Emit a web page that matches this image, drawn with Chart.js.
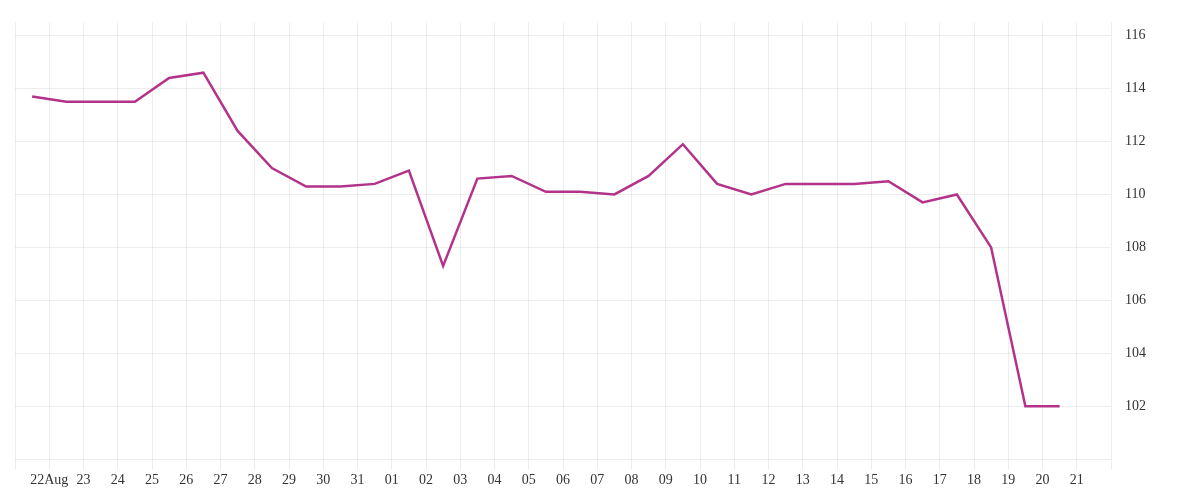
<!doctype html>
<html lang="en">
  <head>
    <meta charset="utf-8">
    <title>Line Chart</title>
    <style>
      * { margin: 0; padding: 0; }
      .chartBox { width: 1200px; height: 500px; }
    </style>
  </head>
  <body>
    <div class="chartBox"><canvas id="myChart"></canvas></div>
    <script src="https://cdn.jsdelivr.net/npm/chart.js"></script>
    <script>
    // setup
    const dayLabels = ['22Aug','23','24','25','26','27','28','29','30','31','01','02','03','04','05','06','07','08','09','10','11','12','13','14','15','16','17','18','19','20','21'];
    // points sit half a day before each tick
    const pointDays = [-0.5,0.5,1.5,2.5,3.5,4.5,5.5,6.5,7.5,8.5,9.5,10.5,11.5,12.5,13.5,14.5,15.5,16.5,17.5,18.5,19.5,20.5,21.5,22.5,23.5,24.5,25.5,26.5,27.5,28.5,29.5];
    const values = [113.7,113.5,113.5,113.5,114.4,114.6,112.4,111.0,110.3,110.3,110.4,110.9,107.3,110.6,110.7,110.1,110.1,110.0,110.7,111.9,110.4,110.0,110.4,110.4,110.4,110.5,109.7,110.0,108.0,102.0,102.0];
    const yTicks = [100,102,104,106,108,110,112,114,116];

    const data = {
      datasets: [{
        data: pointDays.map((d, i) => ({ x: d, y: values[i] })),
        borderColor: '#b3338a',
        borderWidth: 2.5,
        pointRadius: 0,
        tension: 0,
        fill: false
      }]
    };

    const gridColor = 'rgba(0,0,0,0.07)';
    const font = { family: 'Liberation Serif', size: 14 };

    const config = {
      type: 'line',
      data,
      options: {
        responsive: true,
        maintainAspectRatio: false,
        animation: false,
        layout: { padding: { left: 15, right: 40, top: 2, bottom: 8 } },
        plugins: { legend: { display: false }, tooltip: { enabled: false } },
        scales: {
          x: {
            type: 'linear',
            min: -1,
            max: 31,
            border: { display: false },
            grid: { color: gridColor, tickLength: 10 },
            ticks: {
              stepSize: 1,
              autoSkip: false,
              maxRotation: 0,
              color: '#333',
              font,
              callback: v => dayLabels[v] ?? ''
            }
          },
          y: {
            position: 'right',
            min: 100,
            max: 116.5,
            border: { display: false },
            afterBuildTicks: axis => { axis.ticks = yTicks.map(v => ({ value: v })); },
            grid: { color: gridColor, tickLength: 0 },
            ticks: {
              padding: 14,
              color: '#333',
              font,
              callback: v => v > 100 ? v : ''
            }
          }
        }
      }
    };

    const myChart = new Chart(document.getElementById('myChart'), config);
    </script>
  </body>
</html>
